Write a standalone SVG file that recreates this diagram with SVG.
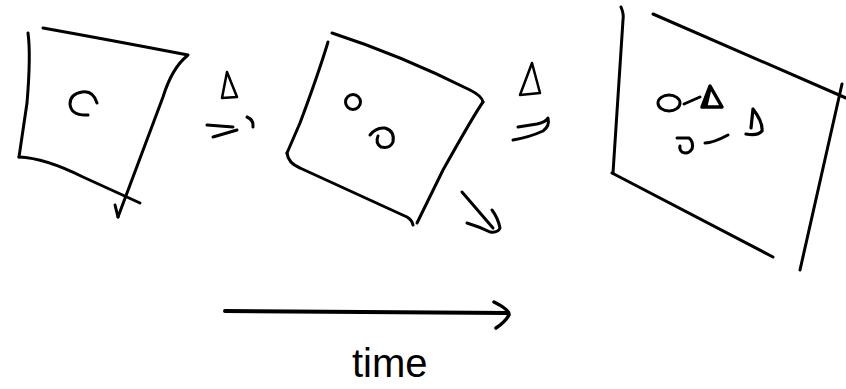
<svg xmlns="http://www.w3.org/2000/svg" width="846" height="389" viewBox="0 0 846 389">
<style>
.s{fill:none;stroke:#000;stroke-width:3;stroke-linecap:round;stroke-linejoin:round}
.t{font-family:"Liberation Sans",Arial,sans-serif;font-size:40px;fill:#000}
</style>
<rect width="846" height="389" fill="#fff"/>
<g id="frame1">
<path class="s" d="M28,33 Q31,55 27,103 L19,157"/>
<path class="s" d="M43,28 Q110,40 188,55"/>
<path class="s" d="M187,56 Q172,68 163,97 L118,217"/>
<path class="s" d="M115,205 L118,217"/>
<path class="s" d="M19,157 Q45,158 83,177 L140,203"/>
<path class="s" d="M97,103 Q93,90 82,92 Q70,94 70,104 Q71,116 88,115"/>
<path class="s" d="M227,72 L222,98 L237,97 Z" style="stroke-width:2.5"/>
<path class="s" d="M207,125 L233,127 M213,137 L237,130 M247,117 Q254,120 253,127"/>
</g>
<g id="frame2">
<path class="s" d="M332,33 Q400,55 470,90 Q482,96 483,102"/>
<path class="s" d="M328,42 Q318,75 300,123 L287,153"/>
<path class="s" d="M287,153 Q288,163 300,168 L407,217 Q412,220 413,225"/>
<path class="s" d="M483,102 Q475,113 443,170 L417,223"/>
<circle class="s" cx="353" cy="102" r="7.5"/>
<path class="s" d="M370,135 Q376,127 385,128 Q395,131 393,142 Q390,149 381,147 Q375,143 378,136"/>
<path class="s" d="M532,63 L520,95 L540,93 Z" style="stroke-width:2.5"/>
<path class="s" d="M518,127 L537,124 Q546,122 548,118 Q550,126 543,131 Q530,137 513,140"/>
<path class="s" d="M462,192 L493,228 M467,223 Q480,227 490,232 Q498,233 500,228 Q498,218 492,210"/>
</g>
<g id="frame3">
<path class="s" d="M621,7 Q624,14 623,20 L613,173"/>
<path class="s" d="M653,14 L846,98"/>
<path class="s" d="M842,84 L800,270"/>
<path class="s" d="M612,173 L773,257"/>
<ellipse class="s" cx="669" cy="103" rx="11" ry="8"/>
<path class="s" d="M684,104 L700,97"/>
<path class="s" d="M710,86 L702,107 L722,107 Z M710,88 L706,105" style="stroke-width:3.5"/>
<path class="s" d="M677,138 L689,138 Q694,142 692,149 Q688,155 682,152 Q679,149 680,146"/>
<path class="s" d="M705,143 Q713,143 728,135"/>
<path class="s" d="M753,109 Q763,122 762,131 Q758,136 746,134 M753,109 L751,128" style="stroke-width:3.2"/>
</g>
<g id="connectors">
<path class="s" d="M225,311 L508,313" style="stroke-width:4"/>
<path class="s" d="M494,302 Q510,310 509,315 Q505,322 496,328" style="stroke-width:3.5"/>
</g>
<g id="label">
<text class="t" x="352" y="377">time</text>
</g>
</svg>
